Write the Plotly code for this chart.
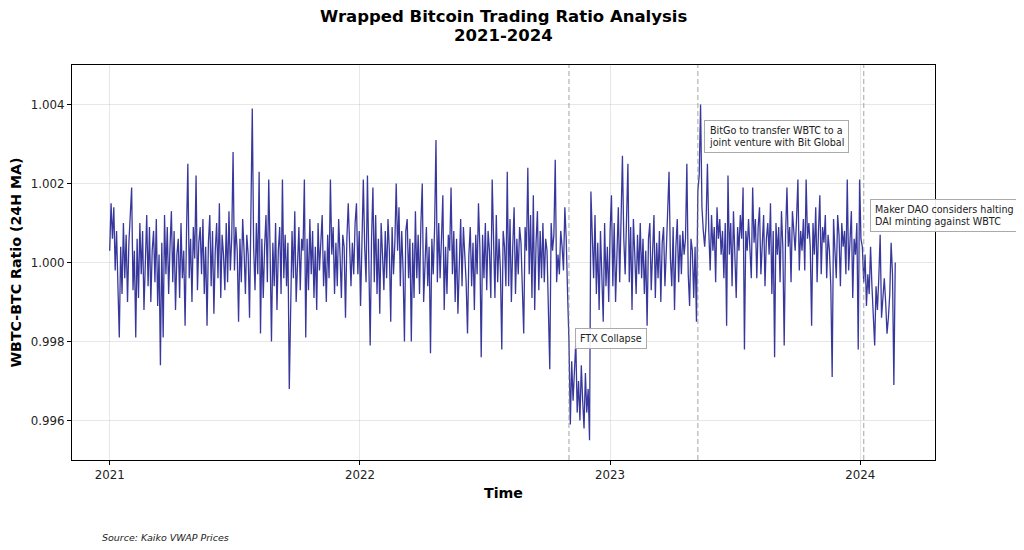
import pandas as pd
import plotly.graph_objects as go

# WBTC/BTC ratio (24H MA), sampled every 2 days from 2021-01-01,
# stored as offset from 1.0 in basis points (1 bp = 0.0001)
start_date = "2021-01-01"
ratio_offset_bp = [
    3, 15, 6, 14, -2, 8, -6, -19, 4, -8,
    10, -4, 7, -10, 5, 11, 19, -7, 3, -19,
    6, -9, 10, -3, 8, -12, 4, 12, -6, 9,
    -10, 3, 8, -5, 11, -11, 2, -26, 5, -19,
    12, -3, 9, -8, 4, 13, -5, 8, -12, 2,
    6, -9, 10, -4, 3, -16, 7, 25, -4, 6,
    -10, 9, 1, 22, -7, 5, 9, -3, 11, -8,
    4, -16, 5, 12, -6, 8, -13, 3, 10, -4,
    15, -9, 7, 2, -7, 10, -5, 13, -2, 6,
    28, -2, 9, 3, -15, 6, -5, 11, 3, -8,
    7, 2, -14, 8, 39, 4, -7, 10, -3, 23,
    -18, 6, -9, 4, 12, -5, 21, 3, -20, 5,
    -6, 10, -12, 3, 9, -8, 21, -4, 7, -6,
    5, -32, -11, 8, -4, 13, -10, 2, 9, -7,
    6, 3, 21, -19, 6, -7, 11, -3, 8, -9,
    4, -12, 10, -2, 6, 12, -6, 3, -10, 7,
    -4, 21, 2, 9, -8, 5, -6, 11, 2, -9,
    7, 4, -14, 6, 15, 2, -6, 5, -3, 10,
    15, -3, 8, -11, 6, 21, 4, -5, 22, 4,
    -21, 6, 19, -5, 12, -8, 6, -13, 10, 2,
    -7, 8, -4, 11, 3, -15, 9, -3, 5, 20,
    3, 14, -6, 8, -2, -20, 8, 11, -4, 6,
    -20, 5, -9, 13, -4, 7, -8, 10, 20, -10,
    2, 9, -6, 4, -23, 6, -3, 9, 31, -5,
    10, -4, 6, 17, -12, 4, -8, 7, 3, 19,
    -3, 8, -10, 6, -13, 3, 11, -6, 9, 2,
    -5, -18, 2, 9, -6, 5, -12, 7, -3, 15,
    4, -24, 7, -4, 10, -7, 8, 3, -9, 21,
    3, -9, 12, -5, 6, -2, -22, 8, 4, -6,
    23, -6, 11, -10, 4, 14, -8, 6, -3, 9,
    5, -6, -18, 9, 3, 24, -3, 12, -9, 17,
    -12, 5, 13, -7, 8, -4, 10, -5, 6, 3,
    -9, -27, 10, 3, 7, 26, -5, 2, -3, 8,
    4, -2, 14, 6, -8, -20, -41, -25, -35, -28,
    -20, -38, -30, -40, -26, -35, -42, -28, -38, -32,
    -45, 18, 9, -4, 12, -8, 5, -12, 8, -3,
    -15, 10, -6, 4, -10, 8, 17, -6, 10, -10,
    4, 14, -5, 9, 27, 6, -3, 11, 25, -5,
    9, -12, 11, 2, -8, 7, -3, 10, -4, 6,
    -8, 3, -16, 6, 10, -7, 3, 12, -9, 5,
    -4, 8, -10, 5, 9, -6, 3, 11, 23, 1,
    -6, 9, -12, 4, 11, -5, 7, -3, 8, 2,
    6, 25, -3, -11, 6, 3, -9, 4, -15, 18,
    22, 40, 14, 8, 4, 10, 25, 8, -2, 12,
    3, 9, -5, 14, 6, 11, 2, 8, -4, 10,
    -16, 22, 2, 10, -6, 13, 4, -9, 9, 3,
    12, 6, 19, -22, 8, 3, 11, 5, -4, 19,
    5, 11, -4, 9, 14, -3, 7, 12, -6, 6,
    10, 2, 15, -8, 8, -24, 10, 2, 9, -5,
    13, 4, -21, 7, 19, 4, 9, -5, 13, 7,
    3, 11, 21, -2, 8, 3, 11, -2, 21, 6,
    10, 4, -16, 10, 2, 14, -5, 8, 17, -3,
    9, 5, 12, -4, 7, 3, -6, -29, 11, 3,
    -4, 12, 7, -6, 10, 4, 8, -3, 21, -2,
    8, 13, -9, 6, 2, 10, -22, 21, 6, 4,
    -5, 2, -11, -3, -8, 4, -6, -12, -21, -6,
    -12, -4, 7, -14, -9, -4, -10, -18, -14, -8,
    5, -3, -31, 0,
]

event_dates = ["2022-11-02", "2023-05-09", "2024-01-06"]
event_labels = [
    "FTX Collapse",
    "BitGo to transfer WBTC to a<br>joint venture with Bit Global",
    "Maker DAO considers halting<br>DAI minting against WBTC",
]
event_label_y = [0.99807, 1.0032, 1.00119]

y_ticks = [0.996, 0.998, 1.000, 1.002, 1.004]
x_tick_dates = ["2021-01-01", "2022-01-01", "2023-01-01", "2024-01-01"]
x_tick_labels = ["2021", "2022", "2023", "2024"]

dates = pd.date_range(start=start_date, periods=len(ratio_offset_bp), freq="2D")
ratio = [1 + v / 10000 for v in ratio_offset_bp]

FONT = "DejaVu Sans"

# page coordinates of the plot area (the page body has an 8px margin)
BODY = 8
plot_l, plot_r, plot_t, plot_b = 72, 935, 65, 460
W, H = 1016, 542
ph = plot_b - plot_t
pw = plot_r - plot_l

fig = go.Figure()
fig.add_trace(go.Scatter(
    x=dates, y=ratio, mode="lines",
    line=dict(color="rgba(0,0,128,0.78)", width=1.3),
    showlegend=False,
))

shapes = []
annotations = []
for d, lab, ly in zip(event_dates, event_labels, event_label_y):
    shapes.append(dict(
        type="line", xref="x", yref="paper", x0=d, x1=d, y0=0, y1=1,
        line=dict(color="rgba(128,128,128,0.55)", width=1.3, dash="5px,3px"),
    ))
    annotations.append(dict(
        x=d, y=ly, xref="x", yref="y", text=lab, showarrow=False,
        xanchor="left", yanchor="middle", xshift=6, align="left",
        font=dict(family=FONT, size=9.6, color="#222222"),
        bgcolor="rgba(255,255,255,0.9)", bordercolor="#aaaaaa",
        borderwidth=1, borderpad=4,
    ))

annotations.append(dict(
    x=(100 - plot_l) / pw, y=-(537 - plot_b) / ph, xref="paper", yref="paper",
    text="<i>Source: Kaiko VWAP Prices</i>", showarrow=False,
    xanchor="left", yanchor="middle",
    font=dict(family=FONT, size=9.5, color="#222222"),
))
for txt, ypix in [("<b>Wrapped Bitcoin Trading Ratio Analysis</b>", 16.5), ("<b>2021-2024</b>", 35)]:
    annotations.append(dict(
        x=0.5, y=(plot_b - ypix) / ph, xref="paper", yref="paper",
        text=txt, showarrow=False, xanchor="center", yanchor="middle",
        borderpad=0,
        font=dict(family=FONT, size=16.5, color="black"),
    ))

fig.update_layout(
    width=W, height=H,
    margin=dict(l=plot_l - BODY, r=W + BODY - plot_r, t=plot_t - BODY, b=H + BODY - plot_b, autoexpand=False),
    paper_bgcolor="white", plot_bgcolor="white",
    font=dict(family=FONT, color="#222222"),
    shapes=shapes,
    annotations=annotations,
)

fig.update_xaxes(
    type="date", range=["2020-11-07", "2024-04-19"],
    tickvals=x_tick_dates, ticktext=x_tick_labels,
    showgrid=True, gridcolor="rgba(176,176,176,0.3)", gridwidth=1,
    showline=True, linecolor="black", linewidth=1, mirror=True,
    ticks="outside", ticklen=4, tickcolor="black",
    tickfont=dict(family=FONT, size=11.8, color="#222222"),
    title=dict(text="<b>Time</b>", font=dict(family=FONT, size=14.2, color="black"), standoff=6),
    zeroline=False,
)
fig.update_yaxes(
    range=[0.995, 1.005],
    tickvals=y_ticks, ticktext=[f"{v:.3f}" for v in y_ticks],
    showgrid=True, gridcolor="rgba(176,176,176,0.3)", gridwidth=1,
    showline=True, linecolor="black", linewidth=1, mirror=True,
    ticks="outside", ticklen=4, tickcolor="black",
    tickfont=dict(family=FONT, size=11.8, color="#222222"),
    title=dict(text="<b>WBTC-BTC Ratio (24H MA)</b>", font=dict(family=FONT, size=14.2, color="black"), standoff=10),
    zeroline=False,
)

fig.write_html("out.html")
